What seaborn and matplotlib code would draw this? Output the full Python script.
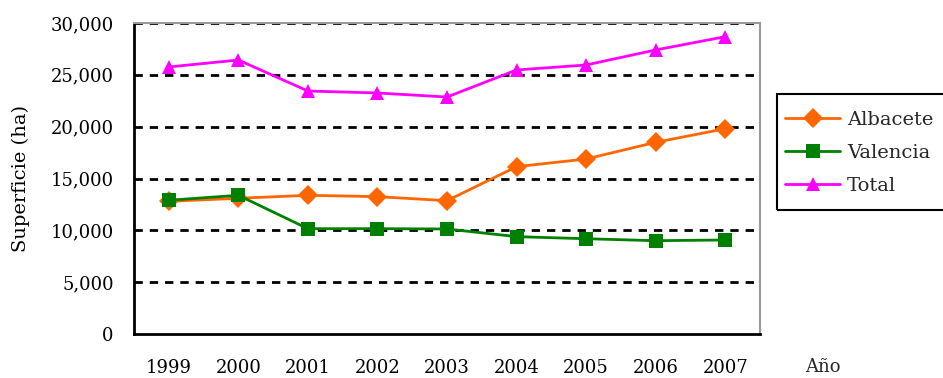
import matplotlib
matplotlib.use("Agg")
import matplotlib.pyplot as plt
import matplotlib.ticker as mticker
from matplotlib.patches import Rectangle
import pandas as pd
import seaborn as sns

years = [1999, 2000, 2001, 2002, 2003, 2004, 2005, 2006, 2007]
albacete = [12800, 13090, 13380, 13250, 12860, 16140, 16880, 18490, 19800]
valencia = [12900, 13380, 10160, 10160, 10130, 9390, 9190, 9000, 9070]
total = [25760, 26430, 23440, 23250, 22860, 25470, 25950, 27400, 28680]
series_names = ["Albacete", "Valencia", "Total"]

df = pd.DataFrame({
    "Año": years * 3,
    "Superficie": albacete + valencia + total,
    "Serie": [series_names[0]] * 9 + [series_names[1]] * 9 + [series_names[2]] * 9,
})

sns.set_theme(style="white")
plt.rcParams["font.family"] = ["DejaVu Serif"]

W, H = 943, 378
fig = plt.figure(figsize=(W / 100, H / 100), dpi=100)
ax = fig.add_axes([134 / W, 44 / H, 626 / W, 311 / H])

palette = {"Albacete": "#FF6600", "Valencia": "#008000", "Total": "#FF00FF"}
markers = {"Albacete": "D", "Valencia": "s", "Total": "^"}
sns.lineplot(data=df, x="Año", y="Superficie", hue="Serie", style="Serie",
             palette=palette, markers=markers, dashes=False, markersize=10,
             linewidth=2, markeredgewidth=0, ax=ax, legend=False)

ax.set_xlim(1998.5, 2007.5)
ax.set_ylim(0, 30000)
ax.set_yticks(range(0, 30001, 5000))
ax.yaxis.set_major_formatter(mticker.FuncFormatter(lambda v, p: f"{int(v):,}"))
ax.set_xticks(years)
ax.set_xticklabels([str(y) for y in years])
ax.set_xticks([y + 0.5 for y in [1998] + years], minor=True)
ax.tick_params(axis="x", which="major", length=0, pad=18, labelsize=13, colors="black")
ax.tick_params(axis="x", which="minor", length=6, width=1.5, direction="out", color="black")
ax.tick_params(axis="y", which="major", length=6.5, width=1.5, direction="out",
               labelsize=13, colors="black", pad=8)
for y in range(5000, 30001, 5000):
    ax.axhline(y, xmax=0.99, color="black", linestyle=(0, (3, 2.5)), linewidth=2, zorder=0)

ax.set_xlabel("")
ax.set_ylabel("Superficie (ha)", fontsize=14, color="black")
ax.yaxis.set_label_coords(-0.166, 0.5)
for side in ["left", "bottom"]:
    ax.spines[side].set_color("black")
    ax.spines[side].set_linewidth(2)
for side in ["top", "right"]:
    ax.spines[side].set_color("#999999")
    ax.spines[side].set_linewidth(1.5)

fig.text(805 / W, 1 - 367 / H, "Año", fontsize=13, va="center", ha="left")

handles = [plt.Line2D([], [], color=palette[n], marker=markers[n], markersize=10,
                      markeredgewidth=0, linewidth=2) for n in series_names]
leg = fig.legend(handles, series_names, loc="center left",
                 bbox_to_anchor=(785 / W, 1 - 153 / H), fontsize=14,
                 frameon=False, borderpad=0, borderaxespad=0,
                 handlelength=2.85, labelspacing=0.78, handletextpad=0.35)
fig.patches.append(Rectangle((777 / W, 1 - 210 / H), 200 / W, 116 / H,
                             transform=fig.transFigure, fill=False,
                             edgecolor="black", linewidth=1.5))

fig.savefig("out.png", dpi=100)
